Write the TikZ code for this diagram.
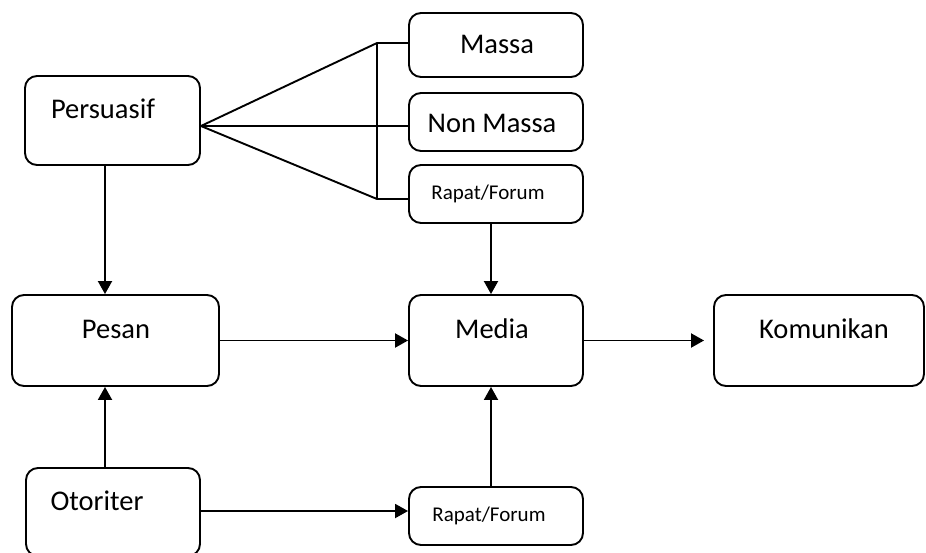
\documentclass[tikz,border=0pt]{standalone}
\usepackage{fontspec}
\setmainfont{Carlito}
\usetikzlibrary{arrows.meta}
\begin{document}
\begin{tikzpicture}[x=1pt,y=-1pt,
  box/.style={draw, line width=1.9pt, rounded corners=12pt, inner sep=0pt},
  lbl/.style={anchor=base, inner sep=0pt, font=\fontsize{28.5}{30}\selectfont},
  slbl/.style={anchor=base, inner sep=0pt, font=\fontsize{21}{23}\selectfont},
  conn/.style={line width=1.9pt},
  arr/.style={line width=1.9pt, -{Triangle[length=13pt,width=14pt]}}]
\useasboundingbox (0,0) rectangle (926,552);
\clip (0,0) rectangle (926,552);
% boxes
\node[box, minimum width=175pt, minimum height=89pt] (persuasif) at (112.5,120.5) {};
\node[box, minimum width=174pt, minimum height=64pt] (massa) at (496,45) {};
\node[box, minimum width=174pt, minimum height=58pt] (nonmassa) at (496,122) {};
\node[box, minimum width=174pt, minimum height=58pt] (rapat1) at (496,194) {};
\node[box, minimum width=207pt, minimum height=91pt] (pesan) at (115.5,340.5) {};
\node[box, minimum width=174pt, minimum height=91pt] (media) at (496,340.5) {};
\node[box, minimum width=210pt, minimum height=91pt] (komunikan) at (819,340.5) {};
\node[box, minimum width=174pt, minimum height=88pt] (otoriter) at (113,512) {};
\node[box, minimum width=174pt, minimum height=58pt] (rapat2) at (496,516) {};
% texts
\node[lbl] (tpersuasif) at (103,118) {Persuasif};
\node[lbl] (tmassa) at (497,53) {Massa};
\node[lbl] (tnonmassa) at (492,132) {Non Massa};
\node[slbl] (trapat1) at (488,199) {Rapat/Forum};
\node[lbl] (tpesan) at (116,338) {Pesan};
\node[lbl] (tmedia) at (492,338) {Media};
\node[lbl] (tkomunikan) at (824,338) {Komunikan};
\node[lbl] (totoriter) at (97,510) {Otoriter};
\node[slbl] (trapat2) at (489,521) {Rapat/Forum};
% helper coordinates
\coordinate (j1) at (377,43);
\coordinate (j2) at (377,126);
\coordinate (j3) at (377,199);
\coordinate (colA) at (105,0);
\coordinate (colB) at (491,0);
\coordinate (rowC) at (0,511);
% fan-out connectors
\draw[conn] ([yshift=-5.5pt]persuasif.east) -- (j1) -- (massa.west |- j1);
\draw[conn] ([yshift=-5.5pt]persuasif.east) -- (j2) -- (nonmassa.west |- j2);
\draw[conn] ([yshift=-5.5pt]persuasif.east) -- (j3) -- (rapat1.west |- j3);
\draw[conn] (j1) -- (j3);
% arrows
\draw[arr] (persuasif.south -| colA) -- (pesan.north -| colA);
\draw[arr] (rapat1.south -| colB) -- (media.north -| colB);
\draw[arr] (pesan.east) -- (media.west);
\draw[arr] (media.east) -- ([xshift=-9pt]komunikan.west);
\draw[arr] (otoriter.north -| colA) -- (pesan.south -| colA);
\draw[arr] (otoriter.east |- rowC) -- (rapat2.west |- rowC);
\draw[arr] (rapat2.north -| colB) -- (media.south -| colB);
\end{tikzpicture}
\end{document}
